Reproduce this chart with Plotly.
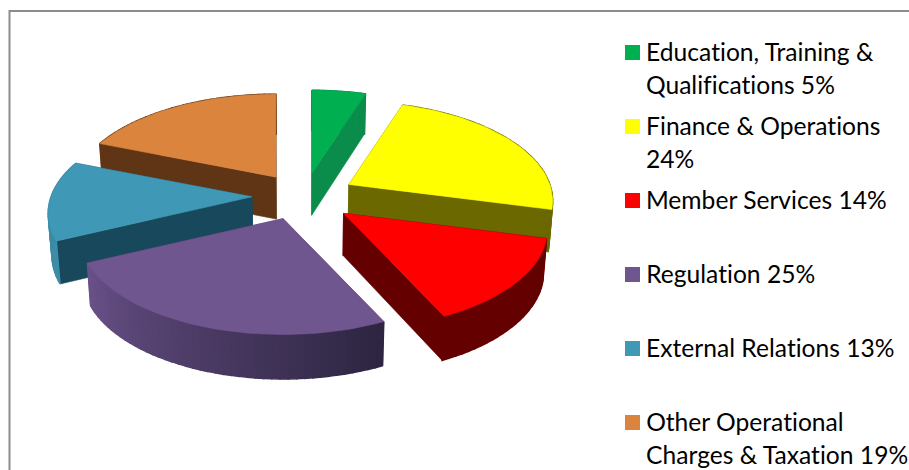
import math
import plotly.graph_objects as go

# ---- data -------------------------------------------------------------
categories = ["Education, Training & Qualifications", "Finance & Operations",
              "Member Services", "Regulation", "External Relations",
              "Other Operational Charges & Taxation"]
values = [5, 24, 14, 25, 13, 19]
legend_lines = [["Education, Training &", "Qualifications 5%"],
                ["Finance & Operations", "24%"],
                ["Member Services 14%"],
                ["Regulation 25%"],
                ["External Relations 13%"],
                ["Other Operational", "Charges & Taxation 19%"]]
top_colors = ["#00B050", "#FFFF00", "#FF0000", "#70568F", "#3F98B5", "#DA843E"]
radial_colors = ["#0A8C4B", "#6B6800", "#640000", "#4A3560", "#17485C", "#5F3516"]
outer_start = ["#0A8C4B", "#6B6800", "#640000", "#2C2440", "#3D8EA8", "#5F3516"]
outer_end = ["#0A8C4B", "#6B6800", "#640000", "#6A5289", "#3A86A0", "#5F3516"]
draw_order = [5, 0, 1, 4, 2, 3]

# ---- projection of the tilted, exploded pie ---------------------------
CX, CY = 303, 196
RX, RY = 201, 96.7
PERSP = 0.166
EXPLODE = 50
DEPTH = 42
SHRINK = 0.985
SEGMENTS = 18
APEX_NUDGE = [(1, 1), (2, 0), (2, 2), (-3, 0), (-1, 0), (1, 1)]


def project(apex, theta, r=1.0, low=False):
    s = 1 / (1 + PERSP * r * math.cos(theta))
    x = apex[0] + RX * r * math.sin(theta) * s
    y = apex[1] - RY * r * math.cos(theta) * s
    if low:
        d = DEPTH * s ** 0.3
        x = CX + (x - CX) * SHRINK
        y = y + d
    return x, y


def mix(c1, c2, t):
    a = [int(c1[i:i + 2], 16) for i in (1, 3, 5)]
    b = [int(c2[i:i + 2], 16) for i in (1, 3, 5)]
    return "rgb(%d,%d,%d)" % tuple(round(p + (q - p) * t) for p, q in zip(a, b))


fig = go.Figure()


def poly(points, color, name, width=0.6):
    fig.add_trace(go.Scatter(
        x=[p[0] for p in points] + [points[0][0]],
        y=[p[1] for p in points] + [points[0][1]],
        mode="lines", fill="toself", fillcolor=color,
        line=dict(color=color, width=width),
        name=name, showlegend=False, hoverinfo="name"))


total = sum(values)
starts = []
acc = 0
for v in values:
    starts.append(acc)
    acc += v

for i in draw_order:
    t0 = 2 * math.pi * starts[i] / total
    t1 = 2 * math.pi * (starts[i] + values[i]) / total
    mid = (t0 + t1) / 2
    apex = (CX + EXPLODE * math.sin(mid) + APEX_NUDGE[i][0],
            CY - EXPLODE * RY / RX * math.cos(mid) + APEX_NUDGE[i][1])
    name = categories[i]
    for t in (t1, t0):
        poly([project(apex, 0, 0), project(apex, t), project(apex, t, low=True),
              project(apex, 0, 0, low=True)], radial_colors[i], name)
    n = max(3, int(SEGMENTS * values[i] / 10))
    angles = [t0 + (t1 - t0) * k / n for k in range(n + 1)]
    for k in range(n):
        a, b = angles[k], angles[k + 1]
        poly([project(apex, a), project(apex, b), project(apex, b, low=True),
              project(apex, a, low=True)],
             mix(outer_start[i], outer_end[i], (k + 0.5) / n), name, width=1.5)
    poly([project(apex, 0, 0)] + [project(apex, a) for a in angles], top_colors[i], name)

# ---- legend, border ---------------------------------------------------
shapes = [dict(type="path", path="M 9.5 470 L 9.5 11 L 909 11",
               line=dict(color="#8C8C8C", width=2), layer="below")]
annotations = []
LEG_Y = [52, 126, 200, 274, 348, 422]
for y, lines, col in zip(LEG_Y, legend_lines, top_colors):
    shapes.append(dict(type="rect", x0=625, x1=640, y0=y - 7, y1=y + 8,
                       fillcolor=col, line=dict(width=0)))
    for j, text in enumerate(lines):
        annotations.append(dict(x=644, y=y - 1 + 33 * j, text=text, showarrow=False,
                                xanchor="left", yanchor="middle",
                                font=dict(family="Lato", size=24.6, color="#000000")))

fig.update_layout(
    width=909, height=470, autosize=False,
    margin=dict(l=0, r=0, t=0, b=0),
    paper_bgcolor="white", plot_bgcolor="white",
    showlegend=False, shapes=shapes, annotations=annotations,
    xaxis=dict(range=[0, 909], visible=False, fixedrange=True),
    yaxis=dict(range=[470, 0], visible=False, fixedrange=True),
)
fig.write_html("out.html", config={"displayModeBar": False},
               default_width=909, default_height=470,
               post_script="document.body.style.margin='0';"
                           "var st=document.createElement('style');"
                           "st.textContent='text{font-variant-ligatures:none!important;"
                           "font-feature-settings:\"liga\" 0,\"clig\" 0!important;"
                           "letter-spacing:0.01px}';"
                           "document.head.appendChild(st);")
